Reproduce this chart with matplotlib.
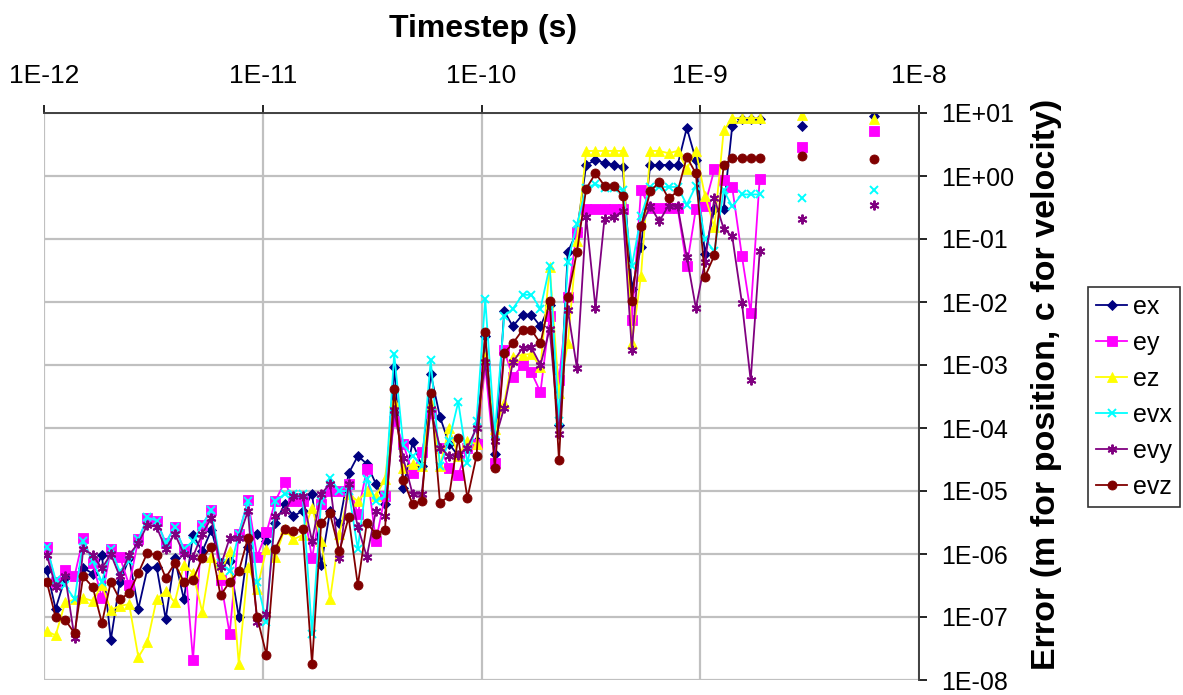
"""Error vs timestep, log-log, Excel-style chart with axes on top/right."""
import matplotlib
matplotlib.use("Agg")
import matplotlib.pyplot as plt
from matplotlib.ticker import FuncFormatter, LogLocator, NullLocator
import numpy as np

plt.rcParams["font.family"] = ["Liberation Sans", "DejaVu Sans"]

# timestep (s) for each sample; the last two are isolated points
timestep = [
    1.03e-12, 1.13e-12, 1.25e-12, 1.38e-12, 1.51e-12, 1.67e-12, 1.84e-12, 2.02e-12,
    2.22e-12, 2.45e-12, 2.70e-12, 2.97e-12, 3.27e-12, 3.60e-12, 3.96e-12, 4.36e-12,
    4.80e-12, 5.29e-12, 5.82e-12, 6.41e-12, 7.06e-12, 7.77e-12, 8.56e-12, 9.42e-12,
    1.04e-11, 1.14e-11, 1.26e-11, 1.38e-11, 1.52e-11, 1.68e-11, 1.85e-11, 2.03e-11,
    2.24e-11, 2.47e-11, 2.72e-11, 2.99e-11, 3.29e-11, 3.62e-11, 3.99e-11, 4.39e-11,
    4.84e-11, 5.33e-11, 5.86e-11, 6.46e-11, 7.11e-11, 7.83e-11, 8.62e-11, 9.49e-11,
    1.04e-10, 1.15e-10, 1.27e-10, 1.39e-10, 1.54e-10, 1.69e-10, 1.86e-10, 2.05e-10,
    2.26e-10, 2.48e-10, 2.73e-10, 3.01e-10, 3.32e-10, 3.65e-10, 4.02e-10, 4.42e-10,
    4.87e-10, 5.36e-10, 5.91e-10, 6.50e-10, 7.16e-10, 7.88e-10, 8.68e-10, 9.55e-10,
    1.05e-09, 1.16e-09, 1.28e-09, 1.40e-09, 1.55e-09, 1.70e-09, 1.87e-09,
    2.91e-09, 6.22e-09,
]

ex = [
    5.5e-7, 1.35e-7, 4.2e-7, 4.4e-7, 6.0e-7, 4.9e-7, 9.5e-7, 4.3e-8, 3.6e-7, 8.5e-7,
    1.35e-7, 5.9e-7, 6.3e-7, 9.3e-8, 8.5e-7, 1.9e-7, 2.0e-6, 1.1e-6, 2.4e-6, 7.1e-7,
    7.7e-7, 1.0e-7, 1.3e-6, 2.1e-6, 1.6e-6, 3.1e-6, 6.2e-6, 4.0e-6, 4.8e-6, 9.0e-6,
    6.8e-7, 4.8e-6, 3.1e-6, 1.9e-5, 3.6e-5, 2.7e-5, 1.3e-5, 6.2e-6, 9.3e-4, 1.1e-5,
    5.9e-5, 2.5e-5, 7.2e-4, 1.5e-4, 5.6e-5, 3.6e-5, 5.2e-5, 6.3e-5, 2.9e-3, 3.9e-5,
    7.2e-3, 4.1e-3, 6.3e-3, 6.3e-3, 4.1e-3, 9.1e-3, 1.1e-4, 0.062, 0.13, 1.5,
    1.8, 1.6, 1.5, 1.4, 0.016, 0.074, 1.5, 1.5, 1.5, 1.5,
    5.8, 1.8, 0.058, 0.30, 0.30, 6.2, 8.0, 8.0, 8.0,
    6.2, 9.0,
]
ey = [
    1.3e-6, 3.6e-7, 5.6e-7, 4.5e-7, 1.8e-6, 7.1e-7, 2.0e-7, 1.2e-6, 9.1e-7, 3.2e-7,
    1.7e-6, 3.7e-6, 3.4e-6, 1.5e-6, 2.7e-6, 1.2e-6, 2.1e-8, 2.9e-6, 5.0e-6, 3.9e-7,
    5.4e-8, 2.1e-6, 7.2e-6, 9.1e-7, 2.2e-6, 6.9e-6, 1.4e-5, 6.9e-6, 6.9e-6, 8.5e-7,
    6.2e-6, 1.0e-5, 1.0e-5, 1.3e-5, 4.3e-6, 2.2e-5, 1.6e-6, 8.3e-6, 1.3e-4, 5.6e-5,
    1.9e-5, 4.2e-5, 1.7e-4, 4.9e-5, 2.3e-5, 1.8e-5, 4.9e-5, 5.5e-5, 9.6e-4, 2.8e-5,
    1.7e-3, 6.4e-4, 1.0e-3, 7.7e-4, 3.7e-4, 5.9e-3, 5.7e-4, 1.2e-2, 0.13, 0.30,
    0.30, 0.30, 0.30, 0.30, 5.2e-3, 0.60, 0.31, 0.31, 0.31, 0.31,
    0.037, 0.30, 0.34, 1.27, 0.85, 0.66, 0.054, 6.8e-3, 0.91,
    2.9, 5.2,
]
ez = [
    6.0e-8, 5.1e-8, 1.7e-7, 1.9e-7, 2.0e-7, 1.8e-7, 3.2e-7, 1.3e-7, 1.5e-7, 1.6e-7,
    2.3e-8, 4.0e-8, 1.9e-7, 2.6e-7, 1.7e-7, 6.8e-7, 5.0e-7, 1.2e-7, 9.1e-7, 4.9e-7,
    1.1e-6, 1.8e-8, 6.3e-7, 2.8e-7, 1.2e-6, 9.1e-7, 2.5e-6, 1.7e-6, 2.0e-6, 5.4e-6,
    1.6e-6, 1.9e-7, 2.1e-6, 9.0e-6, 6.9e-6, 1.0e-5, 8.3e-6, 1.55e-5, 2.6e-4, 2.3e-5,
    2.7e-5, 2.5e-5, 2.4e-4, 2.5e-5, 1.0e-4, 3.6e-5, 6.3e-5, 5.5e-5, 1.35e-3, 9.5e-5,
    2.5e-4, 1.35e-3, 1.45e-3, 1.5e-3, 9.3e-4, 0.036, 3.6e-4, 2.2e-3, 0.093, 2.5,
    2.5, 2.5, 2.5, 2.5, 2.2e-3, 0.026, 2.5, 2.5, 2.3, 2.5,
    1.3, 2.5, 0.49, 0.155, 5.3, 8.3, 8.3, 8.3, 8.3,
    9.3, 8.0,
]
evx = [
    1.3e-6, 3.9e-7, 3.2e-7, 1.9e-7, 1.6e-6, 7.7e-7, 3.6e-7, 1.2e-6, 5.3e-7, 7.7e-7,
    1.7e-6, 3.8e-6, 3.4e-6, 1.5e-6, 2.7e-6, 1.2e-6, 1.6e-6, 2.9e-6, 5.0e-6, 7.1e-7,
    5.3e-7, 2.1e-6, 6.9e-6, 3.6e-7, 8.3e-8, 6.9e-6, 9.0e-6, 9.0e-6, 9.0e-6, 5.4e-8,
    6.9e-6, 1.6e-5, 1.0e-5, 1.0e-5, 1.2e-6, 1.55e-5, 6.9e-6, 8.3e-6, 1.5e-3, 5.3e-5,
    3.6e-5, 2.5e-5, 1.2e-3, 2.5e-5, 6.3e-5, 2.6e-4, 2.8e-5, 1.3e-4, 1.1e-2, 8.0e-5,
    5.9e-3, 7.8e-3, 1.3e-2, 1.3e-2, 7.8e-3, 0.037, 1.3e-4, 0.043, 0.17, 0.64,
    0.75, 0.64, 0.64, 0.60, 0.037, 0.23, 0.67, 0.67, 0.67, 0.67,
    0.35, 0.70, 0.10, 0.064, 0.59, 0.33, 0.51, 0.51, 0.51,
    0.44, 0.59,
]
evy = [
    9.7e-7, 3.0e-7, 4.4e-7, 4.6e-8, 1.2e-6, 9.7e-7, 5.9e-7, 1.0e-6, 4.4e-7, 9.7e-7,
    1.5e-6, 2.9e-6, 2.7e-6, 1.2e-6, 2.1e-6, 1.0e-6, 9.1e-7, 2.1e-6, 3.7e-6, 6.3e-7,
    1.8e-6, 1.8e-6, 4.8e-6, 8.3e-8, 1.1e-7, 4.0e-6, 4.8e-6, 8.3e-6, 8.3e-6, 1.6e-6,
    9.0e-6, 1.3e-5, 8.5e-7, 1.3e-5, 2.7e-6, 9.1e-7, 4.8e-6, 4.0e-6, 1.9e-4, 3.3e-5,
    9.0e-6, 9.0e-6, 2.0e-4, 4.9e-5, 3.6e-5, 3.7e-5, 4.9e-5, 1.0e-4, 1.1e-3, 6.3e-5,
    2.1e-4, 1.1e-3, 1.85e-3, 1.9e-3, 1.0e-3, 3.7e-3, 8.0e-5, 7.5e-3, 9.0e-4, 0.22,
    8.0e-3, 0.21, 0.22, 0.28, 1.7e-3, 0.16, 0.33, 0.19, 0.34, 0.33,
    0.052, 8.0e-3, 0.043, 0.44, 0.145, 0.11, 9.8e-3, 5.7e-4, 0.064,
    0.21, 0.35,
]
evz = [
    3.6e-7, 1.0e-7, 9.0e-8, 5.5e-8, 4.4e-7, 3.0e-7, 8.0e-8, 3.6e-7, 1.9e-7, 2.4e-7,
    5.0e-7, 1.05e-6, 9.5e-7, 4.2e-7, 7.1e-7, 3.6e-7, 3.9e-7, 8.5e-7, 1.3e-6, 2.2e-7,
    3.6e-7, 5.3e-7, 1.8e-6, 1.0e-7, 2.5e-8, 1.2e-6, 2.5e-6, 2.3e-6, 2.5e-6, 1.8e-8,
    3.1e-6, 4.4e-6, 1.1e-6, 3.8e-6, 3.2e-7, 3.1e-6, 2.1e-6, 2.4e-6, 4.1e-4, 1.5e-5,
    6.2e-6, 6.9e-6, 3.6e-4, 6.5e-6, 8.3e-6, 7.0e-5, 7.7e-6, 3.6e-5, 3.3e-3, 2.3e-5,
    1.55e-3, 2.2e-3, 3.6e-3, 3.6e-3, 2.2e-3, 1.05e-2, 3.1e-5, 1.2e-2, 0.062, 0.63,
    1.1, 0.70, 0.70, 0.49, 0.0105, 0.16, 0.57, 0.81, 0.44, 0.57,
    2.0, 1.1, 0.025, 0.055, 1.5, 1.9, 1.9, 1.9, 1.9,
    2.05, 1.85,
]

series = [
    ("ex", ex, "#000080", "D", 5.5),
    ("ey", ey, "#FF00FF", "s", 6.5),
    ("ez", ez, "#FFFF00", "^", 7.0),
    ("evx", evx, "#00FFFF", "x", 6.0),
    ("evy", evy, "#800080", (6, 2, 0), 7.0),
    ("evz", evz, "#800000", "o", 6.5),
]
n_line = 79  # points joined by lines; the rest stand alone

fig = plt.figure(figsize=(11.83, 6.95), dpi=100)
ax = fig.add_axes([44 / 1183, 15 / 695, (919 - 44) / 1183, (680 - 113) / 695])

x = np.array(timestep)
for name, vals, col, mk, ms in series:
    y = np.array(vals)
    mew = 1.4 if mk in ("x", (6, 2, 0)) else 0.6
    ax.plot(x[:n_line], y[:n_line], color=col, lw=1.3, marker=mk, ms=ms,
            mfc=col, mec=col, mew=mew, label=name)
    ax.plot(x[n_line:], y[n_line:], ls="none", marker=mk, ms=ms,
            mfc=col, mec=col, mew=mew)

ax.set_xscale("log")
ax.set_yscale("log")
ax.set_xlim(1e-12, 1e-8)
ax.set_ylim(1e-8, 1e1)
ax.xaxis.set_major_locator(LogLocator(base=10, numticks=20))
ax.yaxis.set_major_locator(LogLocator(base=10, numticks=20))
ax.xaxis.set_minor_locator(NullLocator())
ax.yaxis.set_minor_locator(NullLocator())


def sci(v, _pos):
    e = int(round(np.log10(v)))
    return f"1E{e:+03d}" if e >= 0 else f"1E-{abs(e):02d}"


def sci_x(v, _pos):
    e = int(round(np.log10(v)))
    return f"1E-{abs(e)}"


ax.xaxis.set_major_formatter(FuncFormatter(sci_x))
ax.yaxis.set_major_formatter(FuncFormatter(sci))
ax.xaxis.tick_top()
ax.yaxis.tick_right()
ax.tick_params(axis="x", direction="out", length=6, width=1.2, pad=12,
               labelsize=19, colors="black")
ax.tick_params(axis="y", direction="out", length=6, width=1.2, pad=10,
               labelsize=18, colors="black")

ax.grid(True, which="major", color="#C0C0C0", lw=1.6)
ax.set_axisbelow(True)
for side in ("left", "bottom"):
    ax.spines[side].set_visible(False)
for side in ("top", "right"):
    ax.spines[side].set_color("#404040")
    ax.spines[side].set_linewidth(1.4)

fig.text(483 / 1183, 1 - 29 / 695, "Timestep (s)", ha="center", va="center",
         fontsize=23, fontweight="bold")
fig.text(1047 / 1183, 1 - 384 / 695, "Error (m for position, c for velocity)",
         ha="center", va="center", rotation=90, fontsize=24.5, fontweight="bold")

leg = fig.legend(loc="upper left", bbox_to_anchor=(1088 / 1183, 1 - 287 / 695),
                 fontsize=18, frameon=True, fancybox=False, handlelength=1.25,
                 handletextpad=0.25, labelspacing=0.48, borderpad=0.32,
                 borderaxespad=0)
leg.get_frame().set_edgecolor("black")
leg.get_frame().set_linewidth(1.2)

fig.savefig("out.png", dpi=100)
